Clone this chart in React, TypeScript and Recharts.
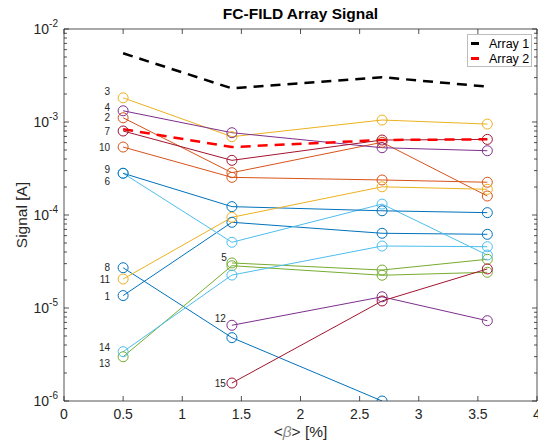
import React from "react";
import { LineChart, Line, XAxis, YAxis, ReferenceLine } from "recharts";

// beta positions of the four measurements
const X_POS = [0.5, 1.42, 2.69, 3.58];
const X_TICKS = [0, 0.5, 1, 1.5, 2, 2.5, 3, 3.5, 4];
const Y_DECADES = [1e-6, 1e-5, 1e-4, 1e-3, 1e-2];

const ARRAY_1 = [5.48e-3, 2.3e-3, 3.03e-3, 2.4e-3];
const ARRAY_2 = [8.36e-4, 5.38e-4, 6.4e-4, 6.52e-4];

const S1 = [1.36e-5, 8.35e-5, 6.36e-5, 6.2e-5];
const S2 = [1.11e-3, 2.85e-4, 6.05e-4, 1.6e-4];
const S3 = [1.82e-3, 6.95e-4, 1.05e-3, 9.5e-4];
const S4 = [1.32e-3, 7.67e-4, 5.29e-4, 4.91e-4];
const S5 = [null, 3.05e-5, 2.56e-5, 3.34e-5];
const S6 = [2.81e-4, 5.09e-5, 1.31e-4, 3.71e-5];
const S7 = [8.0e-4, 3.87e-4, 6.4e-4, 6.5e-4];
const S8 = [2.71e-5, 4.8e-6, 1.0e-6, null];
const S9 = [2.81e-4, 1.23e-4, 1.11e-4, 1.06e-4];
const S10 = [5.38e-4, 2.54e-4, 2.38e-4, 2.25e-4];
const S11 = [2.05e-5, 9.45e-5, 2.01e-4, 1.89e-4];
const S12 = [null, 6.52e-6, 1.32e-5, 7.3e-6];
const S13 = [2.99e-6, 2.85e-5, 2.25e-5, 2.42e-5];
const S14 = [3.39e-6, 2.26e-5, 4.64e-5, 4.56e-5];
const S15 = [null, 1.56e-6, 1.19e-5, 2.63e-5];

const BLUE = "#0072BD";
const ORANGE = "#D95319";
const YELLOW = "#EDB120";
const PURPLE = "#7E2F8E";
const GREEN = "#77AC30";
const LIGHT = "#4DBEEE";
const RED = "#A2142F";

const SERIES = [
  { key: "s1", label: "1", values: S1, color: BLUE, dx: -13, dy: 1 },
  { key: "s2", label: "2", values: S2, color: ORANGE, dx: -13, dy: 0 },
  { key: "s3", label: "3", values: S3, color: YELLOW, dx: -13, dy: -6 },
  { key: "s4", label: "4", values: S4, color: PURPLE, dx: -13, dy: -3 },
  { key: "s5", label: "5", values: S5, color: GREEN, dx: -5, dy: -5 },
  { key: "s6", label: "6", values: S6, color: LIGHT, dx: -13, dy: 8 },
  { key: "s7", label: "7", values: S7, color: RED, dx: -13, dy: 0 },
  { key: "s8", label: "8", values: S8, color: BLUE, dx: -13, dy: 0 },
  { key: "s9", label: "9", values: S9, color: BLUE, dx: -13, dy: -4 },
  { key: "s10", label: "10", values: S10, color: ORANGE, dx: -13, dy: 0 },
  { key: "s11", label: "11", values: S11, color: YELLOW, dx: -13, dy: 0 },
  { key: "s12", label: "12", values: S12, color: PURPLE, dx: -6, dy: -7 },
  { key: "s13", label: "13", values: S13, color: GREEN, dx: -13, dy: 7 },
  { key: "s14", label: "14", values: S14, color: LIGHT, dx: -13, dy: -4 },
  { key: "s15", label: "15", values: S15, color: RED, dx: -6, dy: 0 },
];

const ARRAYS = [
  { key: "a1", name: "Array 1", values: ARRAY_1, color: "#000000" },
  { key: "a2", name: "Array 2", values: ARRAY_2, color: "#FF0000" },
];

const rows = X_POS.map((x, i) => {
  const row: Record<string, number | null> = { x };
  SERIES.forEach((s) => (row[s.key] = s.values[i]));
  ARRAYS.forEach((a) => (row[a.key] = a.values[i]));
  return row;
});

// minor ticks 2..9 in every decade
const Y_TICKS: number[] = [];
Y_DECADES.forEach((d, i) => {
  Y_TICKS.push(d);
  if (i < Y_DECADES.length - 1) {
    for (let k = 2; k <= 9; k++) Y_TICKS.push(d * k);
  }
});

const W = 538;
const H = 446;
const PLOT_LEFT = 64;
const PLOT_RIGHT = 537;
const PLOT_TOP = 29;
const PLOT_BOTTOM = 401;
const AX = "#262626";
const FONT = '"Liberation Sans", Arial, Helvetica, sans-serif';

function isDecade(v: number) {
  const l = Math.log10(v);
  return Math.abs(l - Math.round(l)) < 1e-9;
}

function YTick(props: any) {
  const { y, payload } = props;
  const major = isDecade(payload.value);
  const len = major ? 5 : 3;
  return (
    <g>
      <line x1={PLOT_LEFT} x2={PLOT_LEFT + len} y1={y} y2={y} stroke={AX} strokeWidth={0.8} />
      <line x1={PLOT_RIGHT - len} x2={PLOT_RIGHT} y1={y} y2={y} stroke={AX} strokeWidth={0.8} />
      {major && (
        <text x={PLOT_LEFT - 6} y={y + 5} textAnchor="end" fill={AX} fontSize={14} fontFamily={FONT}>
          <tspan>10</tspan>
          <tspan dy={-7} fontSize={10}>
            {String(Math.round(Math.log10(payload.value)))}
          </tspan>
        </text>
      )}
    </g>
  );
}

function XTick(props: any) {
  const { x, payload } = props;
  return (
    <g>
      <line x1={x} x2={x} y1={PLOT_BOTTOM} y2={PLOT_BOTTOM - 5} stroke={AX} strokeWidth={0.8} />
      <line x1={x} x2={x} y1={PLOT_TOP} y2={PLOT_TOP + 5} stroke={AX} strokeWidth={0.8} />
      <text x={x} y={PLOT_BOTTOM + 18} textAnchor="middle" fill={AX} fontSize={14} fontFamily={FONT}>
        {String(payload.value)}
      </text>
    </g>
  );
}

function makeDot(s: (typeof SERIES)[number]) {
  const first = s.values.findIndex((v) => v !== null);
  return (p: any) => {
    if (p.cy == null || p.value == null || (Array.isArray(p.value) && p.value[1] == null)) {
      return <g key={`${s.key}-d${p.index}`} />;
    }
    return (
      <g key={`${s.key}-d${p.index}`}>
        <circle cx={p.cx} cy={p.cy} r={5} fill="none" stroke={s.color} strokeWidth={1} />
        {p.index === first && (
          <text
            x={p.cx + s.dx}
            y={p.cy + s.dy}
            textAnchor="end"
            dominantBaseline="central"
            fontSize={10}
            fill={AX}
            fontFamily={FONT}
          >
            {s.label}
          </text>
        )}
      </g>
    );
  };
}

function LegendBox() {
  return (
    <div
      style={{
        position: "absolute",
        left: 467,
        top: 34,
        width: 65,
        height: 33,
        border: "1px solid #bdbdbd",
        background: "#fff",
        boxSizing: "border-box",
        fontFamily: FONT,
        fontSize: 12.5,
        color: "#000",
        padding: "1px 0 0 3px",
      }}
    >
      {ARRAYS.map((a) => (
        <div key={a.key} style={{ display: "flex", alignItems: "center", height: 15 }}>
          <span style={{ display: "inline-block", width: 8, height: 2.5, background: a.color, marginRight: 10 }} />
          <span>{a.name}</span>
        </div>
      ))}
    </div>
  );
}

export default function App() {
  return (
    <div style={{ position: "absolute", left: 0, top: 0, width: W, height: H, background: "#fff" }}>
      <LineChart width={W} height={H} data={rows} margin={{ top: PLOT_TOP, right: W - PLOT_RIGHT, bottom: 5, left: 4 }}>
        <XAxis
          dataKey="x"
          type="number"
          domain={[0, 4]}
          ticks={X_TICKS}
          interval={0}
          allowDataOverflow
          height={H - 5 - PLOT_BOTTOM}
          tickLine={false}
          axisLine={{ stroke: AX, strokeWidth: 0.8 }}
          tick={<XTick />}
        />
        <YAxis
          type="number"
          scale="log"
          domain={[1e-6, 1e-2]}
          ticks={Y_TICKS}
          interval={0}
          allowDataOverflow
          width={PLOT_LEFT - 4}
          tickLine={false}
          axisLine={{ stroke: AX, strokeWidth: 0.8 }}
          tick={<YTick />}
        />
        <ReferenceLine y={1e-2} stroke={AX} strokeWidth={0.8} />
        <ReferenceLine x={4} stroke={AX} strokeWidth={0.8} />
        {SERIES.map((s) => (
          <Line
            key={s.key}
            type="linear"
            dataKey={s.key}
            stroke={s.color}
            strokeWidth={1}
            dot={makeDot(s)}
            activeDot={false}
            isAnimationActive={false}
          />
        ))}
        {ARRAYS.map((a) => (
          <Line
            key={a.key}
            type="linear"
            dataKey={a.key}
            name={a.name}
            stroke={a.color}
            strokeWidth={2.5}
            strokeDasharray="10 7"
            dot={false}
            activeDot={false}
            isAnimationActive={false}
          />
        ))}
      </LineChart>
      <LegendBox />
      <div
        style={{
          position: "absolute",
          left: PLOT_LEFT,
          width: PLOT_RIGHT - PLOT_LEFT,
          top: 5,
          textAlign: "center",
          fontFamily: FONT,
          fontWeight: "bold",
          fontSize: 15.5,
          color: "#000",
        }}
      >
        FC-FILD Array Signal
      </div>
      <div
        style={{
          position: "absolute",
          left: PLOT_LEFT,
          width: PLOT_RIGHT - PLOT_LEFT,
          top: 423,
          textAlign: "center",
          fontFamily: FONT,
          fontSize: 15.5,
          color: AX,
        }}
      >
        {"<"}
        <i style={{ color: "#8a8a8a" }}>β</i>
        {"> [%]"}
      </div>
      <div
        style={{
          position: "absolute",
          left: 22,
          top: (PLOT_TOP + PLOT_BOTTOM) / 2,
          transform: "translate(-50%, -50%) rotate(-90deg)",
          fontFamily: FONT,
          fontSize: 15.5,
          color: AX,
          whiteSpace: "nowrap",
        }}
      >
        Signal [A]
      </div>
    </div>
  );
}
